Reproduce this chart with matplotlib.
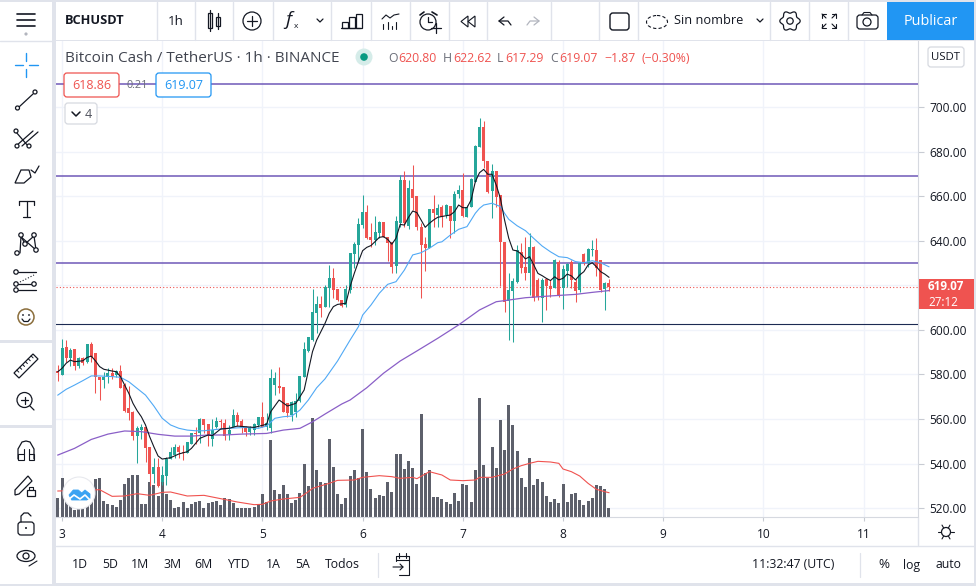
import numpy as np
import matplotlib
matplotlib.use('Agg')
import matplotlib.pyplot as plt
from matplotlib.patches import Rectangle, Circle, FancyBboxPatch, Polygon, Ellipse

plt.rcParams['font.family'] = ['Open Sans', 'DejaVu Sans']

# hourly candles, hours counted from day 3 00:00, first candle is at hour -1
opens = [581.7, 579.7, 592.1, 587.5, 591.4, 583.9, 587.5, 585.7, 593.6, 589.4, 578.7, 577.5, 578.7, 580.8, 579.7, 581.7, 575.2, 564.8, 563.3, 552.3, 555.0, 556.2, 547.5, 535.3, 538.3, 531.8, 534.5, 542.0, 543.8, 547.3, 545.0, 544.6, 548.7, 553.5, 553.5, 560.1, 557.7, 550.8, 556.2, 559.2, 558.3, 553.2, 556.5, 561.8, 559.2, 556.5, 554.3, 555.0, 557.3, 560.7, 556.2, 555.8, 575.2, 574.8, 574.5, 567.3, 561.8, 563.3, 568.0, 579.0, 590.6,
         595.4, 607.7, 611.6, 610.4, 618.6, 623.1, 618.3, 613.4, 611.1, 617.9, 634.0, 638.0, 647.0, 653.0, 641.8, 640.3, 643.6, 648.4, 641.8, 639.5, 628.6, 647.8, 667.2, 646.7, 663.2, 660.0, 646.0, 638.5, 636.6, 654.2, 651.5, 655.2, 651.5, 655.7, 649.0, 660.8,
         662.7, 650.8, 655.3, 666.5, 682.2, 691.2, 675.9, 662.3, 671.3, 660.5, 639.6, 612.9, 617.6, 621.6, 634.8, 628.0, 625.6, 637.3, 622.4, 614.1, 622.6, 619.7, 618.9, 630.6, 618.6, 626.5, 630.6, 621.6, 617.9, 633.9, 630.1, 635.8, 635.8, 631.3, 618.2, 620.8]
highs = [584.2, 595.9, 595.4, 591.7, 591.4, 587.9, 587.6, 593.6, 594.7, 589.4, 579.0, 581.2, 582.7, 582.7, 582.0, 584.2, 576.0, 575.0, 563.7, 556.8, 557.7, 556.2, 547.5, 542.3, 542.3, 539.0, 542.8, 547.5, 548.6, 548.3, 548.3, 549.8, 553.8, 556.2, 560.6, 560.1, 557.7, 559.8, 561.0, 559.8, 559.8, 557.3, 564.3, 563.3, 560.2, 556.8, 556.8, 558.0, 561.0, 567.7, 562.8, 582.3, 581.2, 583.2, 574.5, 567.3, 568.0, 571.5, 579.3, 594.7, 596.9,
         618.3, 615.2, 615.2, 619.9, 629.1, 627.6, 618.3, 613.4, 620.1, 634.6, 639.5, 650.3, 660.5, 656.0, 647.8, 651.1, 648.8, 648.4, 641.8, 639.5, 651.1, 669.5, 671.3, 667.2, 674.0, 660.0, 648.0, 641.8, 654.2, 660.5, 656.5, 656.0, 656.5, 655.7, 662.3, 665.0,
         670.2, 656.0, 668.0, 683.0, 694.9, 693.7, 675.9, 674.3, 671.3, 660.5, 639.6, 625.3, 623.1, 638.1, 638.8, 641.8, 643.3, 637.6, 623.1, 623.1, 623.1, 622.4, 631.8, 631.3, 629.1, 630.1, 631.3, 622.6, 630.6, 634.3, 636.9, 640.3, 641.1, 631.3, 621.6, 622.62]
lows = [577.0, 579.5, 585.7, 583.9, 582.0, 582.7, 584.2, 585.0, 585.7, 571.8, 568.5, 573.7, 576.0, 577.8, 579.0, 573.7, 563.0, 559.5, 550.5, 540.4, 550.8, 540.8, 530.0, 531.1, 529.6, 530.3, 530.3, 542.0, 542.3, 542.3, 541.6, 544.6, 548.7, 548.7, 549.0, 553.5, 547.8, 547.8, 555.8, 555.3, 550.5, 550.5, 556.2, 556.8, 553.5, 552.5, 552.8, 552.8, 556.2, 556.2, 555.0, 553.5, 570.7, 571.5, 563.3, 561.0, 559.2, 561.0, 567.7, 578.7, 590.2,
        595.0, 598.4, 605.6, 610.1, 610.4, 614.1, 613.1, 610.1, 610.4, 616.4, 627.9, 630.6, 645.5, 640.7, 637.3, 638.1, 641.1, 641.8, 631.0, 625.3, 625.3, 646.3, 646.3, 645.2, 653.8, 645.0, 614.4, 626.4, 636.6, 646.3, 646.3, 646.3, 650.0, 641.0, 643.3, 659.0,
        650.8, 650.5, 655.0, 666.3, 681.9, 672.5, 661.3, 650.0, 655.3, 619.8, 608.1, 595.4, 594.4, 621.2, 625.3, 622.4, 615.6, 613.1, 613.4, 603.6, 608.9, 614.9, 618.6, 614.9, 609.3, 619.4, 618.6, 612.6, 617.1, 629.1, 628.3, 633.3, 624.3, 617.1, 608.9, 617.29]
closes = [580.5, 591.7, 587.5, 590.9, 583.9, 587.5, 585.0, 593.6, 587.9, 578.7, 577.5, 579.0, 580.8, 579.3, 581.7, 573.7, 563.7, 562.8, 552.3, 555.8, 556.5, 546.8, 535.3, 538.3, 529.9, 534.8, 542.0, 545.0, 547.5, 545.0, 544.6, 549.5, 553.5, 553.2, 560.1, 557.3, 552.8, 555.0, 559.2, 558.6, 552.3, 555.0, 561.8, 558.8, 556.5, 554.3, 556.2, 557.6, 560.7, 556.5, 558.0, 578.2, 578.2, 573.7, 563.3, 562.5, 567.7, 568.0, 579.3, 591.2, 596.6,
          608.1, 611.6, 610.0, 619.4, 623.4, 617.9, 613.4, 610.7, 618.2, 634.6, 638.3, 647.5, 653.0, 641.3, 640.3, 644.0, 648.5, 641.8, 639.1, 628.3, 648.8, 667.2, 647.8, 663.5, 659.3, 646.0, 638.0, 636.9, 654.2, 652.3, 654.8, 650.5, 656.0, 649.0, 661.0, 662.7,
          651.1, 655.0, 667.5, 682.6, 691.2, 675.9, 662.0, 671.3, 659.8, 639.6, 612.6, 617.9, 622.1, 635.8, 627.9, 625.6, 637.3, 614.1, 614.9, 622.4, 619.7, 618.3, 631.3, 615.6, 627.1, 629.4, 622.4, 617.6, 630.1, 630.1, 636.1, 636.3, 627.6, 617.9, 621.2, 619.07]
volumes = [57, 117, 70, 50, 20, 30, 30, 45, 60, 113, 118, 47, 38, 35, 30, 50, 99, 116, 125, 125, 40, 38, 105, 95, 62, 105, 70, 50, 28, 30, 45, 26, 40, 45, 47, 27, 43, 45, 48, 37, 57, 55, 42, 27, 27, 27, 28, 30, 40, 69, 45, 231, 81, 69, 96, 69, 43, 51, 71, 159, 93,
           296, 141, 105, 101, 234, 150, 69, 39, 57, 123, 141, 117, 264, 135, 84, 57, 66, 63, 105, 75, 189, 189, 144, 168, 147, 99, 309, 132, 141, 60, 60, 54, 45, 39, 72, 48,
           99, 96, 45, 141, 357, 156, 117, 210, 147, 291, 201, 336, 276, 198, 117, 90, 177, 96, 114, 105, 63, 45, 54, 42, 99, 45, 69, 72, 51, 36, 48, 57, 96, 93, 84, 27]

# moving averages read at the hours listed with each
black_h = [-1, 0, 1, 2, 3, 5, 6, 7, 8, 9, 10, 12, 13, 14, 15, 16, 17, 18, 19, 20, 21, 22, 23, 24, 26, 28, 30, 31, 33, 35, 36, 38, 40, 42, 44, 46, 49, 50, 52, 54, 56, 58, 60, 61, 63, 64, 65, 66, 68, 69, 70, 71, 72, 73, 74, 75, 76, 77, 78, 79, 80, 81, 82, 83, 84, 85, 86, 87, 88, 89, 90, 92, 93, 94, 95, 96, 97, 98, 99, 100, 101, 102, 103, 104, 105, 106, 107, 108, 109, 110, 111, 112, 113, 114, 115, 116, 117, 118, 119, 120, 121, 122, 123, 124, 125, 126, 127, 128, 129, 130, 131]
black_p = [581.2, 582.7, 585, 586.4, 585.7, 586.1, 587.6, 588.2, 586.1, 583.5, 582.3, 581.5, 581.2, 579, 575.2, 571.5, 567, 563.7, 561, 557.3, 552, 547.5, 543.4, 542, 542.6, 544.3, 545.3, 546.8, 551.3, 552.8, 552.5, 555.5, 555.8, 556.8, 556.5, 556.2, 557.6, 563.3, 568.5, 565.8, 567, 573, 590.2, 595.4, 602.9, 607.4, 610.4, 611.4, 611.9, 619.4, 625.3, 630.6, 635.5, 637, 637.8, 639.6, 641.5, 641.8, 640.6, 638.4, 641.1, 647.3, 647, 650.5, 653.3, 652.6, 649.3, 646, 647.8, 649.3, 650.5, 651.2, 651.5, 653, 656, 654.8, 654.8, 658.3, 666.5, 670.5, 672, 669.8, 669.8, 665, 659, 649.3, 641.1, 635.8, 635.4, 634, 631.8, 632.8, 629.1, 625.3, 624.3, 623.1, 622.1, 623.8, 622.4, 623.1, 625, 624.2, 622.4, 624.6, 626.1, 629.1, 630.1, 628.3, 626.1, 625, 623.6]
blue_h = [-1, 1, 3, 5, 7, 9, 12, 14, 16, 18, 20, 22, 24, 26, 28, 30, 32, 34, 37, 40, 44, 47, 49, 51, 53, 55, 57, 59, 61, 63, 66, 69, 71, 72, 74, 76, 78, 80, 82, 84, 86, 88, 90, 91, 93, 95, 97, 98, 99, 100, 101, 103, 105, 106, 107, 109, 111, 113, 115, 117, 119, 121, 123, 125, 127, 129, 131]
blue_p = [570.7, 573.3, 575.2, 577.2, 579.3, 579.3, 579, 578.7, 576.7, 573.7, 570.7, 565.8, 560.3, 557.3, 555.8, 555, 554.7, 554.7, 555.3, 555.8, 556.2, 555.8, 556.8, 560.3, 561, 561.3, 564, 568.5, 574, 578, 586, 595.4, 601.4, 606.6, 611.1, 616.4, 620.4, 621.6, 626.8, 633.6, 634.6, 636.6, 639.1, 639.5, 642.5, 645.1, 646.3, 649.3, 652.3, 654.5, 656, 656.8, 655.3, 652.3, 649.6, 646.7, 644.5, 641, 637.6, 635, 632.8, 632.4, 630.6, 630.1, 631, 630.1, 628.3]
purple_h = [-1, 3, 7, 11, 15, 19, 23, 27, 31, 35, 39, 43, 49, 53, 57, 60, 63, 67, 69, 73, 77, 81, 85, 90, 95, 100, 104, 106, 111, 117, 123, 127, 131]
purple_p = [543.8, 546.8, 550.8, 553.2, 554.6, 554.3, 553.1, 552.3, 552.3, 552.8, 552.8, 553.2, 553.5, 555, 555.8, 558.7, 562.2, 566.7, 568.5, 574, 580.5, 586, 590.5, 596.2, 602.2, 608.9, 612.6, 613.1, 614.4, 615.2, 615.9, 616.8, 617.6]
volma_h = [-1, 6, 9, 12, 15, 18, 21, 24, 26, 30, 34, 38, 42, 46, 48, 50, 53, 57, 59, 60, 64, 66, 70, 72, 76, 79, 81, 84, 85, 88, 91, 93, 96, 99, 100, 103, 106, 108, 110, 112, 114, 117, 119, 120, 122, 124, 126, 128, 130, 131]
volma_v = [78, 80, 82, 62, 63, 70, 65, 74, 75, 63, 65, 55, 45, 37, 38, 48, 54, 59, 76, 86, 101, 110, 111, 119, 124, 121, 116, 119, 115, 136, 126, 111, 109, 111, 119, 119, 129, 144, 154, 161, 167, 165, 161, 144, 136, 123, 101, 83, 76, 73]

levels = [710.3, 668.8, 630.2]
support = 602.8
last_price = 619.07
day_labels = ['3', '4', '5', '6', '7', '8', '9', '10', '11']
day_hours = [24 * i for i in range(9)]
price_ticks = list(range(520, 701, 20))
ranges = ['1D', '5D', '1M', '3M', '6M', 'YTD', '1A', '5A', 'Todos']

GREEN = '#26a69a'
RED = '#ef5350'
BLUE = '#2196f3'
INK = '#131722'
SEP = '#e0e3eb'
VOL_TOP = 1428.0

fig = plt.figure(figsize=(9.76, 5.86), dpi=100, facecolor=SEP)


def box(x0, y0, x1, y1):
    return [x0 / 976, 1 - y1 / 586, (x1 - x0) / 976, (y1 - y0) / 586]


# white panels sit under the chart, so its tick labels stay visible
bg = fig.add_axes([0, 0, 1, 1], zorder=0)
bg.set_xlim(0, 976)
bg.set_ylim(586, 0)
bg.axis('off')
for x0, y0, x1, y1 in [(0, 2, 52, 340), (0, 343, 52, 425), (0, 428, 52, 584),
                       (56, 2, 974, 40), (56, 517, 974, 583), (918, 41, 974, 517)]:
    bg.add_patch(Rectangle((x0, y0), x1 - x0, y1 - y0, fc='white', ec='none'))

ax = fig.add_axes(box(56, 41, 918, 517), facecolor='white', zorder=1)
hours = np.arange(-1, len(opens) - 1)
opens_a, closes_a = np.array(opens), np.array(closes)
colors = [GREEN if c >= o else RED for o, c in zip(opens, closes)]

ax.bar(hours, np.array(volumes) / VOL_TOP, width=0.72, color='#5d606b',
       transform=ax.get_xaxis_transform(), zorder=2)
ax.plot(volma_h, np.array(volma_v) / VOL_TOP, color='#f0524f', lw=0.8,
        transform=ax.get_xaxis_transform(), zorder=3)

for p in levels:
    ax.axhline(p, color='#6f58b8', lw=1.1, zorder=3)
ax.axhline(support, color='#1c2a52', lw=0.8, zorder=3)
ax.axhline(last_price, color=RED, lw=0.8, ls=(0, (1, 2)), zorder=3)

ax.vlines(hours, lows, highs, colors=colors, lw=0.75, zorder=4)
ax.bar(hours, closes_a - opens_a, bottom=opens_a, width=0.72, color=colors, zorder=4)

ax.plot(purple_h, purple_p, color='#8a5fc7', lw=0.9, zorder=5)
ax.plot(blue_h, blue_p, color='#50a9f5', lw=0.8, zorder=5)
ax.plot(black_h, black_p, color=INK, lw=0.8, zorder=6)

ax.set_xlim(-1.44, 205.03)
ax.set_ylim(516.0, 729.6)
ax.set_xticks(day_hours)
ax.set_xticklabels(day_labels)
ax.set_yticks(price_ticks)
# the 620 label sits behind the last price tag on the screen
ax.set_yticklabels(['' if p == 620 else '%.2f' % p for p in price_ticks])
ax.yaxis.tick_right()
ax.grid(True, color='#f0f3fa', lw=1)
ax.set_axisbelow(True)
ax.tick_params(axis='y', length=4, width=0.8, color='#c8cbd3', labelsize=8.6, labelcolor=INK, pad=4)
ax.tick_params(axis='x', length=3, width=0.8, color='#c8cbd3', labelsize=8.6, labelcolor=INK, pad=5)
for side in ['top', 'left']:
    ax.spines[side].set_visible(False)
ax.spines['right'].set_color('#d6d9e0')
ax.spines['bottom'].set_color('#d6d9e0')

# everything round the chart, in screen pixels
ui = fig.add_axes([0, 0, 1, 1], zorder=5)
ui.set_xlim(0, 976)
ui.set_ylim(586, 0)
ui.axis('off')
ui.patch.set_alpha(0)


def line(xs, ys, c=INK, lw=0.9, **kw):
    kw.setdefault('zorder', 3)
    ui.plot(xs, ys, color=c, lw=lw, solid_capstyle='round', **kw)


def circ(x, y, r, fc='none', ec=INK, lw=0.9, z=4):
    ui.add_patch(Circle((x, y), r, fc=fc, ec=ec, lw=lw, zorder=z))


def rect(x, y, w, h, fc='none', ec=INK, lw=0.9, z=3):
    ui.add_patch(Rectangle((x, y), w, h, fc=fc, ec=ec, lw=lw, zorder=z))


def rbox(x0, y0, x1, y1, ec, fc='white', lw=0.9):
    ui.add_patch(FancyBboxPatch((x0 + 2, y0 + 2), x1 - x0 - 4, y1 - y0 - 4, boxstyle='round,pad=2,rounding_size=3',
                                fc=fc, ec=ec, lw=lw, zorder=2))


def poly(pts, fc='none', ec=INK, lw=0.9, z=3):
    ui.add_patch(Polygon(pts, fc=fc, ec=ec, lw=lw, zorder=z))


def label(x, y, s, size=9.2, c=INK, ha='left', **kw):
    ui.text(x, y, s, fontsize=size, color=c, ha=ha, va='center', zorder=5, **kw)


# separators
line([56, 974], [545.5, 545.5], SEP, 1.0)
line([918, 918], [518, 545], SEP, 1.0)
line([378, 378], [553, 577], SEP, 0.9)
line([860, 860], [553, 577], SEP, 0.9)
for x in [157, 195, 233, 273, 331, 371, 410, 449, 487, 551, 599, 638, 770, 809, 848]:
    line([x, x], [2, 40], SEP, 1.0)
line([0, 52], [40.5, 40.5], SEP, 1.0)
ui.add_patch(Rectangle((887, 2), 87, 38, fc=BLUE, ec='none', zorder=2))

# top bar
label(65, 21, 'BCHUSDT', 9.2, weight='bold')
label(168, 21.5, '1h', 9.6)
rect(208, 13, 4, 15)
line([210, 210], [10, 31])
rect(216, 17, 4, 9)
line([218, 218], [13, 29])
circ(252, 21, 9)
line([247, 257], [21, 21])
line([252, 252], [16, 26])
label(285, 20, 'f', 14, c=INK, style='italic')
label(293.5, 27, 'x', 6)
for cx in [320, 760]:
    line([cx - 3, cx, cx + 3], [19, 22, 19])
for x0, h in [(342, 6), (349, 11), (356, 14)]:
    rect(x0, 28 - h, 5.5, h)
line([341, 360], [28, 28])
line([382, 386, 390, 394, 399], [19, 15, 18, 15, 14], lw=0.8)
for xx, top in [(383, 24), (388, 22), (392, 26), (396, 22)]:
    line([xx, xx], [top, 29], lw=0.8)
circ(428, 22, 8)
line([428, 428, 432], [17, 22, 22])
line([420, 424], [15, 12], lw=1.2)
line([432, 437], [12, 15], lw=1.2)
line([431, 441], [28, 28], lw=0.9)
line([436, 436], [23, 33], lw=0.9)
poly([(461, 21.5), (468, 16), (468, 27)], lw=0.8)
poly([(468, 21.5), (475, 16), (475, 27)], lw=0.8)
line([504, 499, 504], [17, 21, 25])
line([499, 508, 511], [21, 21, 25])
line([534, 539, 534], [17, 21, 25], c='#b2b5be')
line([539, 530, 527], [21, 21, 25], c='#b2b5be')
rbox(610, 13, 629, 30, INK, lw=1.0)
ui.add_patch(Ellipse((657, 22), 21, 13, fc='none', ec=INK, lw=0.8, ls=(0, (3, 2)), zorder=3))
label(674, 21, 'Sin nombre', 9.2)
circ(790, 21, 3.2)
gear_a = np.radians(np.arange(0, 360, 5))
gear_r = 9 + 1.2 * np.cos(6 * gear_a)
poly(list(zip(790 + gear_r * np.cos(gear_a), 21 + gear_r * np.sin(gear_a))), lw=0.9)
for sx, sy in [(-1, -1), (1, -1), (-1, 1), (1, 1)]:
    line([829 + sx * 3, 829 + sx * 7], [21 + sy * 3, 21 + sy * 7], lw=0.8)
    line([829 + sx * 7, 829 + sx * 7], [21 + sy * 3, 21 + sy * 7], lw=0.8)
    line([829 + sx * 3, 829 + sx * 7], [21 + sy * 7, 21 + sy * 7], lw=0.8)
rbox(857, 15, 878, 29, INK)
line([862, 864, 870, 872], [15, 12.5, 12.5, 15], lw=0.8)
circ(867, 22, 4)
label(931, 21.5, 'Publicar', 10.4, c='white', ha='center')

# legend row
label(65, 58, 'Bitcoin Cash / TetherUS · 1h · BINANCE', 11.0, c='#40444f')
circ(364, 57, 8.5, fc='#d5ece9', ec='none')
circ(364, 57, 3.8, fc='#089981', ec='none')
for x, s in [(388, 'O'), (443, 'H'), (497, 'L'), (550, 'C')]:
    label(x, 58.5, s, 8.8, c='#6a6d78')
for x, s in [(398, '620.80'), (453, '622.62'), (505, '617.29'), (559, '619.07'), (604, '−1.87'), (641, '(−0.30%)')]:
    label(x, 58.5, s, 8.8, c=RED)
rbox(64, 73, 119, 97, RED)
label(91.5, 85.5, '618.86', 9.0, c=RED, ha='center')
label(137, 85, '0.21', 7.8, c='#6a6d78', ha='center')
rbox(156, 73, 211, 97, BLUE)
label(183.5, 85.5, '619.07', 9.0, c=BLUE, ha='center')
rbox(65, 103, 97, 124, '#d6d9e0')
line([72, 76, 80], [112, 116, 112], lw=1.1)
label(85, 114, '4', 9.0, c='#50535e')

# price scale boxes
rbox(928, 47, 964, 67, '#d6d9e0')
label(946, 57, 'USDT', 8.2, ha='center')
ui.add_patch(Rectangle((919, 279), 55, 30, fc=RED, ec='none', zorder=2))
label(928, 286.5, '619.07', 8.4, c='white', weight='bold')
label(928, 302, '27:12', 8.4, c='white')

# left toolbar
for y in [14, 20, 26]:
    line([17, 35], [y, y], lw=1.2)
circ(26, 34, 1.6, fc='#b2b5be', ec='none')
for a, b, c_, d in [(26, 26, 53, 61), (26, 26, 69, 77), (15, 23, 65, 65), (29, 38, 65, 65)]:
    line([a, b], [c_, d], BLUE, 1.0)
line([19, 33], [107, 94])
circ(17.5, 108, 2, fc='white')
circ(35, 92, 2, fc='white')
line([16, 33], [146, 131])
line([22, 38], [146, 132])
line([16, 28], [132, 146])
for x, y in [(17, 146), (29, 146), (16, 131)]:
    circ(x, y, 2, fc='white')
poly([(15, 183), (21, 170), (29, 170), (31, 177), (24, 183)])
line([31, 35, 39], [170, 173, 166])
line([19, 34], [201, 201])
line([19, 19], [201, 205])
line([34, 34], [201, 205])
line([26.5, 26.5], [201, 217])
line([23, 30], [217, 217])
line([20, 21, 25, 34, 36], [253, 236, 244, 236, 250])
line([20, 36], [236, 250])
for x, y in [(17, 253), (21, 235), (25, 244), (34, 235), (36, 250)]:
    circ(x, y, 2.2, fc='white')
for y, x1 in [(272, 36), (284, 33), (290, 36)]:
    line([18, x1], [y, y])
for x, y in [(16, 272), (16, 284), (34, 284), (16, 290)]:
    circ(x, y, 2.2, fc='white')
line([20, 34], [282, 275], lw=0.8, ls=':')
circ(26, 317, 8, ec='#8a6d3b', lw=1.1)
circ(23, 315, 0.9, fc=INK, ec='none')
circ(29, 315, 0.9, fc=INK, ec='none')
line([22, 24, 28, 30], [319, 321.5, 321.5, 319])
poly([(14, 373), (33, 354), (38, 359), (19, 378)])
for t in [0.15, 0.3, 0.45, 0.6, 0.75, 0.9]:
    line([14 + 19 * t, 14 + 19 * t + 2], [373 - 19 * t, 373 - 19 * t + 2], lw=0.7)
circ(24.5, 400, 7.5)
line([21, 28], [400, 400])
line([24.5, 24.5], [396.5, 403.5])
line([30, 34], [406, 410])
line([18, 18, 22, 26, 30, 34, 34], [459, 449, 442, 441, 442, 449, 459])
rect(18, 454, 5.5, 6, lw=0.8)
rect(28.5, 454, 5.5, 6, lw=0.8)
line([23.5, 23.5], [449, 454], lw=0.8)
line([28.5, 28.5], [449, 454], lw=0.8)
poly([(15, 490), (28, 476), (32, 481), (19, 494), (15, 495)])
rect(27, 490, 8, 6, lw=0.9)
line([29, 29, 33, 33], [490, 487, 487, 490], lw=0.8)
rbox(18, 522, 34, 535, INK, lw=0.9)
line([21, 21, 24, 28, 31], [522, 516, 513, 513, 516])
circ(26, 528, 1, fc=INK, ec='none')
ui.add_patch(Ellipse((26, 556), 18, 11, fc='none', ec=INK, lw=0.9, zorder=3))
circ(26, 556, 3)
line([29, 37], [566, 561], lw=0.8)

# tradingview badge
circ(79, 493, 16, fc='white', ec='#e8e9ee', lw=0.8, z=6)
poly([(69, 495), (73.3, 490), (78.3, 490), (81.7, 493), (85, 490), (90, 494), (90, 498.3), (86.7, 500), (71.7, 500)],
     fc='#3ba3f2', ec='#3ba3f2', lw=0.6, z=7)
line([68, 74, 80, 85, 91], [500, 495, 499, 495, 501], 'white', 1.2, zorder=8)

# bottom bar
for x, s in zip([80, 110, 140, 172, 203, 238, 273, 303, 342], ranges):
    label(x, 565, s, 8.8, ha='center')
line([396, 396, 409, 409, 399], [561, 556, 556, 575, 575], lw=0.8)
line([396, 409], [560, 560], lw=0.8)
line([399, 399], [553, 558], lw=0.8)
line([406, 406], [553, 558], lw=0.8)
line([393, 403, 400], [567, 567, 564], lw=0.8)
line([403, 400], [567, 570], lw=0.8)
label(793, 565, '11:32:47 (UTC)', 8.8, ha='center')
label(884, 565, '%', 9.6, ha='center')
label(912, 565, 'log', 8.8, ha='center')
label(949, 565, 'auto', 8.8, ha='center')
circ(946, 532, 4.5)
for a in np.arange(0, 360, 60):
    line([946 + 5 * np.cos(np.radians(a)), 946 + 8 * np.cos(np.radians(a))],
         [532 + 5 * np.sin(np.radians(a)), 532 + 8 * np.sin(np.radians(a))], lw=0.8)

fig.savefig('out.png', dpi=100, facecolor=fig.get_facecolor())
